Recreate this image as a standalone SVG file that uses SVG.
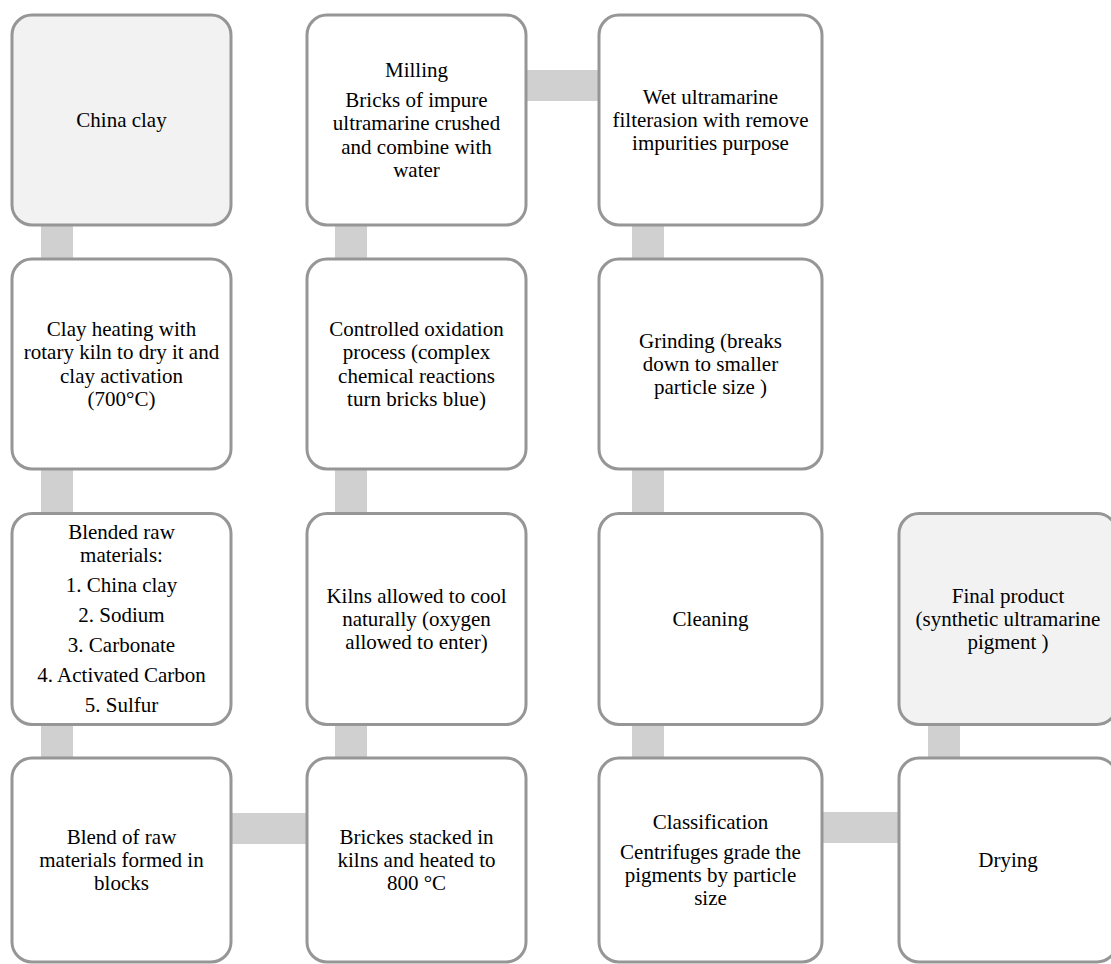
<svg xmlns="http://www.w3.org/2000/svg" width="1111" height="964" viewBox="0 0 1111 964">
<style>
.box{fill:#ffffff;stroke:#969696;stroke-width:3}
.hl{fill:#f2f2f2}
.conn{fill:#d0d0d0}
text{font-family:"Liberation Serif","Times New Roman",serif;font-size:21px;fill:#000;text-anchor:middle}
</style>
<rect width="1111" height="964" fill="#ffffff"/>
<g id="connectors">
<rect class="conn" x="41" y="222" width="32" height="40"/>
<rect class="conn" x="41" y="466" width="32" height="50"/>
<rect class="conn" x="41" y="721" width="32" height="40"/>
<rect class="conn" x="228" y="813" width="82" height="31"/>
<rect class="conn" x="335" y="721" width="32" height="40"/>
<rect class="conn" x="335" y="466" width="32" height="50"/>
<rect class="conn" x="335" y="222" width="32" height="40"/>
<rect class="conn" x="523" y="70" width="79" height="31"/>
<rect class="conn" x="632" y="222" width="32" height="40"/>
<rect class="conn" x="632" y="466" width="32" height="50"/>
<rect class="conn" x="632" y="721" width="32" height="40"/>
<rect class="conn" x="819" y="812" width="83" height="31"/>
<rect class="conn" x="928" y="721" width="32" height="40"/>
</g>
<g id="n1"><rect class="box hl" x="12" y="15" width="219" height="210" rx="20"/>
<text x="121.5" y="127">China clay</text></g>
<g id="n2"><rect class="box" x="12" y="259" width="219" height="210" rx="20"/>
<text x="121.5" y="336">Clay heating with</text><text x="121.5" y="359.3">rotary kiln to dry it and</text><text x="121.5" y="382.6">clay activation</text><text x="121.5" y="406">(700°C)</text></g>
<g id="n3"><rect class="box" x="12" y="513.5" width="219" height="211" rx="20"/>
<text x="121.5" y="539">Blended raw</text><text x="121.5" y="562">materials:</text><text x="121.5" y="592">1. China clay</text><text x="121.5" y="622">2. Sodium</text><text x="121.5" y="652">3. Carbonate</text><text x="121.5" y="682">4. Activated Carbon</text><text x="121.5" y="712">5. Sulfur</text></g>
<g id="n4"><rect class="box" x="12" y="758" width="219" height="204" rx="20"/>
<text x="121.5" y="843.7">Blend of raw</text><text x="121.5" y="867">materials formed in</text><text x="121.5" y="890.3">blocks</text></g>
<g id="n5"><rect class="box" x="307" y="758" width="219" height="204" rx="20"/>
<text x="416.5" y="843.7">Brickes stacked in</text><text x="416.5" y="867">kilns and heated to</text><text x="416.5" y="890.3">800 °C</text></g>
<g id="n6"><rect class="box" x="307" y="513.5" width="219" height="211" rx="20"/>
<text x="416.5" y="602.7">Kilns allowed to cool</text><text x="416.5" y="626">naturally (oxygen</text><text x="416.5" y="649.3">allowed to enter)</text></g>
<g id="n7"><rect class="box" x="307" y="259" width="219" height="210" rx="20"/>
<text x="416.5" y="336">Controlled oxidation</text><text x="416.5" y="359.3">process (complex</text><text x="416.5" y="382.6">chemical reactions</text><text x="416.5" y="406">turn bricks blue)</text></g>
<g id="n8"><rect class="box" x="307" y="15" width="219" height="210" rx="20"/>
<text x="416.5" y="77">Milling</text><text x="416.5" y="107">Bricks of impure</text><text x="416.5" y="130.3">ultramarine crushed</text><text x="416.5" y="153.6">and combine with</text><text x="416.5" y="177">water</text></g>
<g id="n9"><rect class="box" x="599" y="15" width="223" height="210" rx="20"/>
<text x="710.5" y="103.7">Wet ultramarine</text><text x="710.5" y="127">filterasion with remove</text><text x="710.5" y="150.3">impurities purpose</text></g>
<g id="n10"><rect class="box" x="599" y="259" width="223" height="210" rx="20"/>
<text x="710.5" y="347.7">Grinding (breaks</text><text x="710.5" y="371">down to smaller</text><text x="710.5" y="394.3">particle size )</text></g>
<g id="n11"><rect class="box" x="599" y="513.5" width="223" height="211" rx="20"/>
<text x="710.5" y="626">Cleaning</text></g>
<g id="n12"><rect class="box" x="599" y="758" width="223" height="204" rx="20"/>
<text x="710.5" y="828.7">Classification</text><text x="710.5" y="858.7">Centrifuges grade the</text><text x="710.5" y="882">pigments by particle</text><text x="710.5" y="905.3">size</text></g>
<g id="n13"><rect class="box" x="899" y="758" width="218" height="204" rx="20"/>
<text x="1008" y="867">Drying</text></g>
<g id="n14"><rect class="box hl" x="899" y="513.5" width="218" height="211" rx="20"/>
<text x="1008" y="602.7">Final product</text><text x="1008" y="626">(synthetic ultramarine</text><text x="1008" y="649.3">pigment )</text></g>
</svg>
